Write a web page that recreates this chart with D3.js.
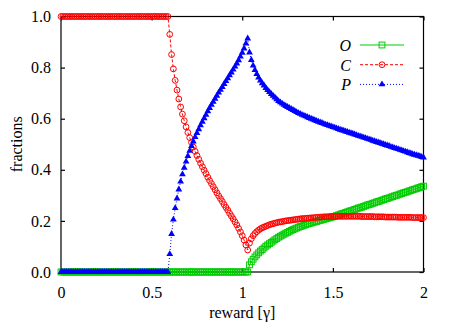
<!DOCTYPE html>
<html>
<head>
<meta charset="utf-8">
<script src="https://cdn.jsdelivr.net/npm/d3@7"></script>
<style>
  body { margin: 0; background: #fff; }
  text { font-family: "Liberation Serif", "DejaVu Serif", serif; }
</style>
</head>
<body>
<div id="chart"></div>
<script>
// sampling grid of the reward axis (step 0.01)
var xs = d3.range(0, 201).map(function (i) { return i / 100; });

// fraction O (green squares)
var oVals = [
  0,0,0,0,0,0,0,0,0,0, 0,0,0,0,0,0,0,0,0,0,
  0,0,0,0,0,0,0,0,0,0, 0,0,0,0,0,0,0,0,0,0,
  0,0,0,0,0,0,0,0,0,0, 0,0,0,0,0,0,0,0,0,0,
  0,0,0,0,0,0,0,0,0,0, 0,0,0,0,0,0,0,0,0,0,
  0,0,0,0,0,0,0,0,0,0, 0,0,0,0,0,0,0,0,0,0,
  0,0,0,0,0.028,0.040,0.050,0.059,0.067,0.075,
  0.082,0.088,0.094,0.101,0.106,0.111,0.116,0.121,0.126,0.131,
  0.136,0.140,0.144,0.148,0.152,0.155,0.159,0.163,0.166,0.169,
  0.172,0.175,0.178,0.180,0.183,0.185,0.188,0.190,0.192,0.194,
  0.196,0.198,0.200,0.202,0.204,0.206,0.208,0.210,0.212,0.214,
  0.216,0.218,0.221,0.223,0.226,0.228,0.230,0.233,0.235,0.238,
  0.240,0.242,0.245,0.247,0.250,0.252,0.254,0.257,0.259,0.262,
  0.264,0.266,0.269,0.271,0.274,0.276,0.278,0.281,0.283,0.286,
  0.288,0.290,0.293,0.295,0.298,0.300,0.302,0.305,0.307,0.310,
  0.312,0.314,0.317,0.319,0.322,0.324,0.326,0.329,0.331,0.334,
  0.336
];

// fraction C (red circles)
var cVals = [
  1,1,1,1,1,1,1,1,1,1, 1,1,1,1,1,1,1,1,1,1,
  1,1,1,1,1,1,1,1,1,1, 1,1,1,1,1,1,1,1,1,1,
  1,1,1,1,1,1,1,1,1,1, 1,1,1,1,1,1,1,1,1,1,
  0.930,0.851,0.795,0.750,0.712,0.677,0.646,0.618,0.592,0.568,
  0.546,0.526,0.507,0.489,0.472,0.456,0.441,0.426,0.412,0.398,
  0.385,0.371,0.358,0.346,0.334,0.322,0.310,0.298,0.287,0.276,
  0.264,0.253,0.242,0.230,0.219,0.208,0.196,0.184,0.171,0.157,
  0.142,0.125,0.106,0.086,0.113,0.130,0.142,0.151,0.158,0.164,
  0.169,0.173,0.176,0.179,0.182,0.185,0.187,0.189,0.191,0.193,
  0.195,0.196,0.197,0.199,0.200,0.201,0.202,0.203,0.204,0.205,
  0.206,0.207,0.208,0.209,0.209,0.210,0.211,0.211,0.212,0.212,
  0.213,0.214,0.214,0.215,0.215,0.216,0.216,0.216,0.217,0.217,
  0.217,0.217,0.218,0.218,0.218,0.218,0.218,0.218,0.218,0.218,
  0.218,0.218,0.218,0.218,0.218,0.218,0.217,0.217,0.217,0.217,
  0.217,0.217,0.217,0.216,0.216,0.216,0.216,0.216,0.216,0.215,
  0.215,0.215,0.215,0.215,0.215,0.215,0.214,0.214,0.214,0.214,
  0.214,0.214,0.214,0.214,0.213,0.213,0.213,0.213,0.213,0.213,
  0.213
];

// fraction P (blue triangles)
var pVals = [
  0,0,0,0,0,0,0,0,0,0, 0,0,0,0,0,0,0,0,0,0,
  0,0,0,0,0,0,0,0,0,0, 0,0,0,0,0,0,0,0,0,0,
  0,0,0,0,0,0,0,0,0,0, 0,0,0,0,0,0,0,0,0,0,
  0.070,0.149,0.205,0.250,0.288,0.323,0.354,0.382,0.408,0.432,
  0.454,0.474,0.493,0.511,0.528,0.544,0.559,0.574,0.588,0.602,
  0.615,0.629,0.642,0.654,0.666,0.678,0.690,0.702,0.713,0.724,
  0.736,0.747,0.758,0.770,0.781,0.792,0.804,0.816,0.829,0.843,
  0.858,0.875,0.894,0.914,0.859,0.830,0.808,0.790,0.775,0.761,
  0.749,0.739,0.730,0.720,0.712,0.704,0.697,0.690,0.683,0.676,
  0.669,0.664,0.659,0.654,0.650,0.646,0.642,0.638,0.634,0.630,
  0.626,0.622,0.619,0.615,0.612,0.609,0.606,0.603,0.600,0.597,
  0.594,0.591,0.588,0.585,0.583,0.580,0.577,0.575,0.572,0.570,
  0.567,0.565,0.562,0.560,0.557,0.555,0.553,0.550,0.548,0.545,
  0.543,0.541,0.538,0.536,0.533,0.531,0.529,0.526,0.524,0.521,
  0.519,0.517,0.514,0.512,0.509,0.507,0.505,0.502,0.500,0.497,
  0.495,0.493,0.490,0.488,0.485,0.483,0.481,0.478,0.476,0.473,
  0.471,0.469,0.466,0.464,0.461,0.459,0.457,0.455,0.453,0.450,
  0.448
];

var xTicks = [0, 0.5, 1, 1.5, 2];
var xTickLabels = ["0", "0.5", "1", "1.5", "2"];
var yTicks = [0, 0.2, 0.4, 0.6, 0.8, 1.0];
var seriesNames = ["O", "C", "P"];

// set the dimensions and margins of the graph
var W = 463, H = 328;
var margin = { top: 16.5, right: 39.5, bottom: 56, left: 61 },
  width = W - margin.left - margin.right,
  height = H - margin.top - margin.bottom;

var x = d3.scaleLinear().domain([0, 2]).range([0, width]);
var y = d3.scaleLinear().domain([0, 1]).range([height, 0]);

var svg = d3.select("#chart").append("svg")
  .attr("width", W)
  .attr("height", H)
  .append("g")
  .attr("transform", "translate(" + margin.left + "," + margin.top + ")");

// border box
svg.append("rect")
  .attr("x", 0).attr("y", 0)
  .attr("width", width).attr("height", height)
  .attr("fill", "none")
  .attr("stroke", "#000")
  .attr("stroke-width", 1.2);

// bottom axis with inward ticks
var xAxis = svg.append("g")
  .attr("transform", "translate(0," + height + ")")
  .call(d3.axisBottom(x).tickValues(xTicks)
    .tickFormat(function (d, i) { return xTickLabels[i]; })
    .tickSizeInner(-4).tickSizeOuter(0).tickPadding(14.5));
// top mirror ticks
var xTop = svg.append("g")
  .call(d3.axisTop(x).tickValues(xTicks).tickFormat("")
    .tickSizeInner(-4).tickSizeOuter(0));
// left axis
var yAxis = svg.append("g")
  .call(d3.axisLeft(y).tickValues(yTicks).tickFormat(d3.format(".1f"))
    .tickSizeInner(-4).tickSizeOuter(0).tickPadding(10));
// right mirror ticks
var yRight = svg.append("g")
  .attr("transform", "translate(" + width + ",0)")
  .call(d3.axisRight(y).tickValues(yTicks).tickFormat("")
    .tickSizeInner(-4).tickSizeOuter(0));

[xAxis, xTop, yAxis, yRight].forEach(function (g) {
  g.select(".domain").remove();
  g.selectAll("line").attr("stroke", "#000").attr("stroke-width", 1.2);
  g.selectAll("text")
    .attr("fill", "#000")
    .style("font-family", "'Liberation Serif', serif")
    .style("font-size", "16px");
});

// axis titles
svg.append("text")
  .attr("x", width / 2)
  .attr("y", H - margin.top - 10)
  .attr("text-anchor", "middle")
  .style("font-size", "16px")
  .text("reward [\u03b3]");

svg.append("text")
  .attr("transform", "translate(" + (22 - margin.left) + "," + (height / 2) + ") rotate(-90)")
  .attr("text-anchor", "middle")
  .style("font-size", "16px")
  .text("fractions");

var series = [
  { name: seriesNames[0], vals: oVals, color: "#00cc00", dash: null, shape: "square" },
  { name: seriesNames[1], vals: cVals, color: "#ff0000", dash: "3,2", shape: "circle" },
  { name: seriesNames[2], vals: pVals, color: "#0000ff", dash: "1,2", shape: "triangle" }
];

var line = d3.line()
  .x(function (d) { return x(d[0]); })
  .y(function (d) { return y(d[1]); });

function drawMarker(g, shape, color, cx, cy) {
  if (shape === "square") {
    g.append("rect")
      .attr("x", cx - 2.9).attr("y", cy - 2.9)
      .attr("width", 5.8).attr("height", 5.8)
      .attr("fill", "none").attr("stroke", color).attr("stroke-width", 1);
  } else if (shape === "circle") {
    g.append("circle")
      .attr("cx", cx).attr("cy", cy).attr("r", 2.9)
      .attr("fill", "none").attr("stroke", color).attr("stroke-width", 1);
  } else {
    g.append("path")
      .attr("d", d3.symbol().type(d3.symbolTriangle).size(20)())
      .attr("transform", "translate(" + cx + "," + cy + ")")
      .attr("fill", color);
  }
}

series.forEach(function (s) {
  var pts = xs.map(function (xv, i) { return [xv, s.vals[i]]; });
  var g = svg.append("g");
  g.append("path")
    .datum(pts)
    .attr("d", line)
    .attr("fill", "none")
    .attr("stroke", s.color)
    .attr("stroke-width", 1)
    .attr("stroke-dasharray", s.dash);
  pts.forEach(function (p) {
    drawMarker(g, s.shape, s.color, x(p[0]), y(p[1]));
  });
});

// legend
var legend = svg.append("g").attr("transform", "translate(" + (351 - margin.left) + "," + (45 - margin.top) + ")");
series.forEach(function (s, i) {
  var row = legend.append("g").attr("transform", "translate(0," + (i * 19.7) + ")");
  row.append("text")
    .attr("x", 0).attr("y", 6)
    .attr("text-anchor", "end")
    .style("font-size", "16px")
    .style("font-style", "italic")
    .text(s.name);
  row.append("line")
    .attr("x1", 9).attr("x2", 53)
    .attr("y1", 0).attr("y2", 0)
    .attr("stroke", s.color)
    .attr("stroke-width", 1)
    .attr("stroke-dasharray", s.dash);
  drawMarker(row, s.shape, s.color, 31, 0);
});
</script>
</body>
</html>
